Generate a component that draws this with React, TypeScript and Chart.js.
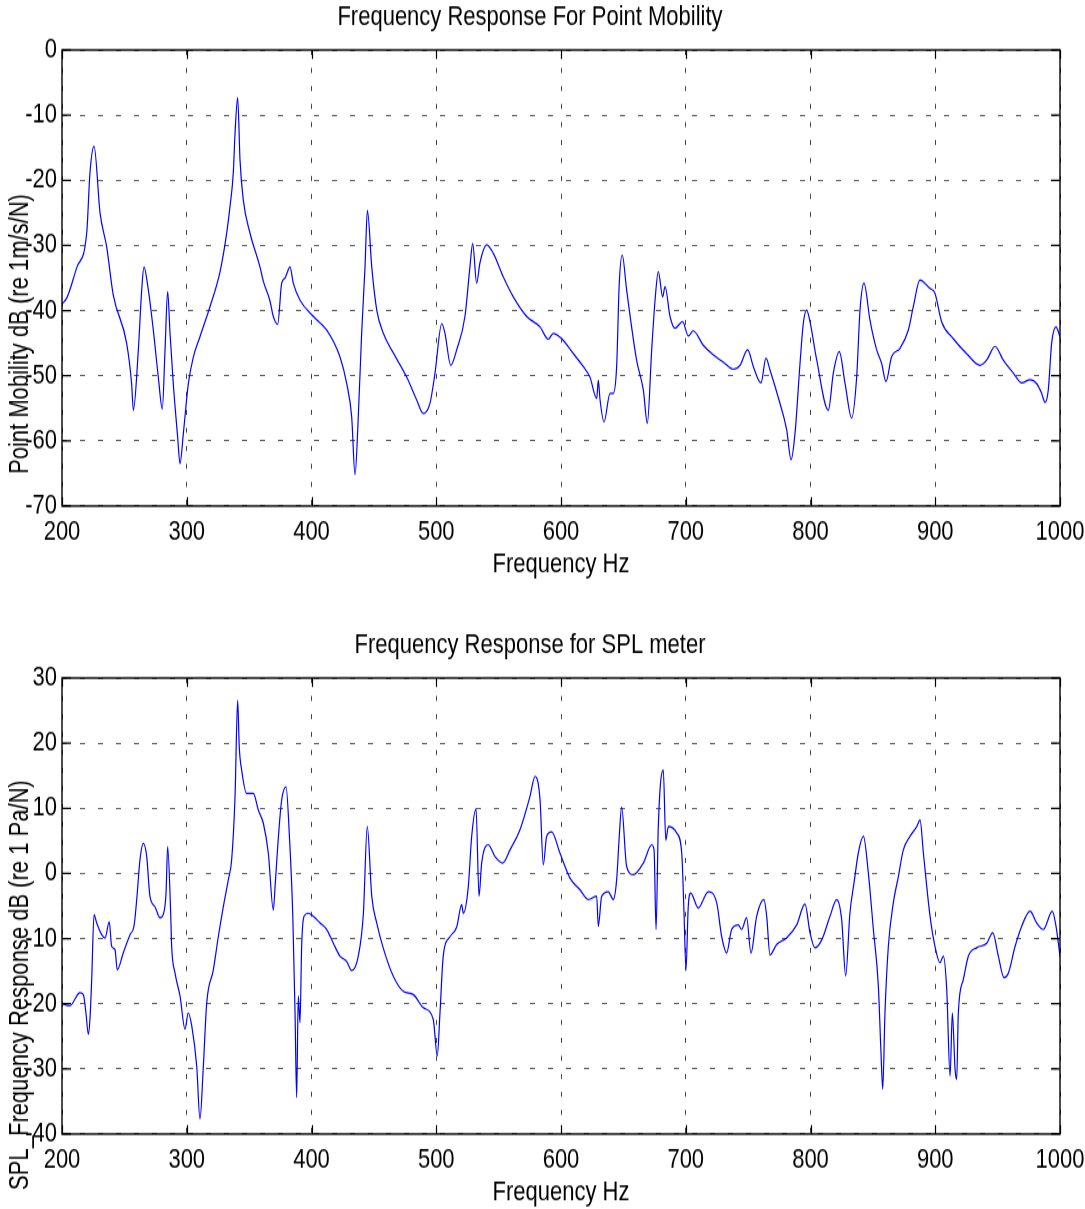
import React, { useEffect, useRef } from "react";
import { Chart, registerables } from "chart.js";

Chart.register(...registerables);

const FONT = '"Liberation Sans Narrow", "Arial Narrow", "Liberation Sans", Arial, sans-serif';
const FS = 22;
// the reference figure was stretched vertically; the canvas is drawn shorter and shown taller
const PANEL_H = 581;
const K = 1.25;
const INNER_H = Math.round(PANEL_H / K);
const KY = PANEL_H / INNER_H;

// ---------- Top panel: Point mobility ----------
const topTitle = "Frequency Response For Point Mobility";
const topYLabel = "Point Mobility dB (re 1m/s/N)";
const topFreq = [
  200, 204, 212, 219.8, 222.4, 225.7, 230.5, 235.8, 241, 251.8, 255.8, 257.2, 261.2, 263.9, 265.7,
  269.2, 273.2, 277.2, 280.4, 282.6, 284.7, 286.6, 289.2, 292.7, 294.6, 297.3, 301.3, 305.3, 310.6,
  318.6, 326.7, 332, 334.7, 337.3, 338.7, 340.8, 342.7, 345.3, 350.7, 358.7, 361.4, 366.7, 369.4,
  372.9, 376.1, 378.8, 382.8, 385.4, 390.8, 401.5, 412.2, 422.8, 428.2, 432.2, 434.9, 437.5, 440.2,
  442.9, 444.8, 448.3, 452.3, 457.6, 465.6, 476.3, 484.3, 489.6, 495, 499, 504.4, 507, 511.6, 516.4,
  523, 527, 529.2, 532.4, 535, 540.4, 545.7, 553.7, 561.8, 572.5, 583.2, 589.8, 593.8, 600.5, 609.9,
  617.9, 623.2, 628.6, 629.9, 631.3, 634.5, 639.3, 641.9, 644.6, 646.7, 649.1, 652.6, 660.6, 666,
  669.2, 672.7, 675.4, 678, 681.5, 683.4, 687.4, 691.4, 697.5, 702, 706, 714, 722.1, 730.1, 738.1,
  743.5, 749.6, 754.2, 760.3, 764.3, 767.5, 775, 780.9, 784.4, 787.6, 791.6, 794.2, 796.9, 799.6,
  805, 814.3, 818.3, 823.1, 827.7, 833, 837, 839.7, 842.9, 847.7, 853, 857, 860.5, 865, 871.7, 878.4,
  882.4, 887.7, 895.7, 899.7, 905.1, 914.4, 925.1, 935.9, 941.2, 947.9, 954.5, 962.6, 969.3, 976,
  981.3, 985.3, 988, 990.6, 993.3, 996.8, 1000,
];
const topDb = [
  -39, -38, -33.3, -28.1, -18.9, -14.8, -25, -30.2, -37.5, -45, -51.2, -55.3, -46, -36.8, -33.3,
  -36.8, -43, -50.2, -55.1, -46, -37.1, -43.5, -51.2, -59.4, -63.5, -58.8, -51.2, -47.1, -44,
  -39.4, -34, -28.1, -24, -18.9, -12.8, -7.3, -16.9, -23, -28.1, -33.3, -35.5, -38.5, -40.9,
  -42.1, -35.8, -35, -33.3, -35.8, -38.4, -40.9, -43, -47.1, -51.2, -56.3, -65.2, -56.3, -43.5,
  -33.3, -24.6, -33.3, -39.9, -43.5, -46.5, -50.2, -53.7, -55.8, -54.2, -49.6, -42, -43.5, -48.4, -46,
  -40.9, -33.3, -29.7, -35.8, -32.7, -29.9, -31.2, -34.8, -37.9, -40.9, -42.5, -44.4, -43.5, -44.3, -46.6,
  -48.6, -50.2, -53.5, -50.7, -53.7, -57.1, -52.7, -52.7, -48.6, -35.8, -31.5, -36.8, -47.6, -52.2,
  -57.3, -46, -38.4, -34, -37.9, -36.3, -40.9, -42.7, -41.7, -43.9, -43.1, -45.3, -46.8, -47.9, -49,
  -48.4, -46, -48.6, -51.1, -47.3, -49.1, -53.9, -58.3, -62.9, -58.8, -48.1, -42, -39.9, -41.7,
  -47.6, -55.3, -49.6, -46.3, -51.2, -56.5, -50.2, -39.9, -35.8, -41.5, -46, -48.1, -50.9, -47.1, -45.8, -43,
  -39.4, -35.3, -36.6, -37.3, -41.7, -44.3, -46.6, -48.4, -47.6, -45.5, -47.6, -49.6, -51.1, -50.6,
  -51.2, -52.7, -54.1, -52.2, -45, -42.5, -44,
];

// ---------- Bottom panel: SPL meter ----------
const botTitle = "Frequency Response for SPL meter";
const botYLabel = "SPL_Frequency Response dB (re 1 Pa/N)";
const botFreq = [
  200, 206.4, 214.4, 217.1, 219.2, 221.1, 222.4, 223.8, 225.7, 227.8, 231.8, 234.5, 237.9, 239.8,
  242.5, 244.3, 249.1, 254.5, 257.7, 259.9, 262.5, 265.2, 267.9, 270.5, 274.5, 278.6, 281.2, 283.4,
  284.7, 287.1, 287.9, 290.6, 294.6, 298.6, 301.2, 304, 308, 310.6, 313.3, 316, 321.3, 325.3, 329.3,
  333.3, 336, 338.7, 340.8, 342.1, 344, 348, 353.4, 357.4, 361.4, 365.4, 369.4, 370.8, 373.5, 376.1,
  379.6, 382.3, 385, 386.8, 388.1, 389.4, 390.8, 392.1, 394, 397.4, 401.5, 406.8, 412.2, 417.5, 422.8,
  428.2, 432.2, 437.5, 441.6, 444.7, 448.3, 452.3, 457.6, 465.6, 473.6, 481.6, 489.6, 497.6, 500.8,
  503, 505.6, 511, 516.4, 520.4, 521.7, 525.7, 528.4, 531.9, 534.3, 536.4, 541.7, 547.1, 553.2, 559.1,
  567.1, 575.1, 579.2, 583.2, 585.8, 588.5, 592.5, 599.2, 607.2, 615.2, 621.9, 628.6, 629.9, 632.6,
  637.9, 641.9, 644.6, 646.7, 648.6, 652.6, 658, 666, 672.7, 674.6, 676.2, 678, 682, 684, 686.1, 692.8,
  696.8, 698.6, 700.2, 702, 704, 710, 718, 724.8, 728.8, 732.8, 736.8, 742.1, 744.8, 748.8, 752.3,
  756.8, 762.7, 764.9, 767.5, 772.9, 780.9, 788.9, 795.6, 799.6, 803.6, 809, 815.6, 821, 825, 828.2,
  831.6, 835, 838.3, 842.4, 846.4, 850.4, 854.4, 856.5, 857.9, 859.7, 862.4, 866.4, 870.4, 874.4,
  879.8, 885.2, 887.8, 890.5, 895.8, 899.8, 903.8, 906.5, 909.2, 911.9, 913.7, 915.9, 917.2, 918.5,
  922.5, 926.5, 933.3, 941.3, 946.1, 950.6, 955.1, 958.6, 964, 969.3, 976, 981.3, 986.6, 993.8, 996.8, 1000,
];
const botDb = [
  -20, -20.3, -18.3, -18.6, -21.4, -24.7, -22.4, -16.3, -6.3, -7.6, -9.4, -9.9, -7.4, -11.2,
  -11.7, -14.8, -12.2, -9.4, -8.1, -4, 2.1, 4.6, 2.6, -3.5, -5.1, -6.8, -6.3, -3,
  4.1, -6, -11.2, -15.3, -18.8, -23.9, -21.4, -23.4, -29.6, -37.7, -29.6, -19.9, -14.8, -9.7, -5.1,
  -1, 2.1, 11.8, 26.6, 19.4, 15.9, 12.3, 12.3, 9.7, 7.7, 3.1, -5.6, -2, 5.7, 11.3,
  13.3, 5.7, -6.5, -21.4, -34.4, -18.8, -22.9, -11.2, -6.6, -6.1, -6.6, -7.6, -8.6, -10.7, -12.7,
  -13.5, -14.9, -12.7, -6.1, 7.2, -3.5, -7.6, -11.5, -15.8, -18.1, -18.6, -20.6, -22.4, -28,
  -21.4, -12.7, -9.7, -8.2, -4.8, -6.1, -2, 5.7, 9.9, -3.5, 1.6, 4.4, 2.6, 1.6, 3.6,
  6.7, 11.8, 14.9, 11.3, 1.3, 5.7, 6.4, 3.1, -0.7, -2.5, -4, -3.5, -8.1, -3.5,
  -2.8, -4, -1, 5.7, 10.2, 1.1, -0.2, 1.6, 4.4, 3.6, -8.6, 7.2, 15.9, 5.1, 7.2, 6.2,
  3.1, -6, -14.8, -5.1, -3, -5.3, -2.8, -4.5, -9.7, -12.2, -8.6, -7.9, -8.6, -6.8, -12.2,
  -6.6, -4, -6.6, -12.5, -10.9, -9.9, -7.9, -4.7, -9.1, -11.4, -10.2, -6.6, -4, -7.1, -15.7,
  -6.1, -1.3, 3.1, 5.7, 0, -8.6, -17.3, -27.5, -33.1, -21.4, -11.2, -4.5, -0.5, 3.6,
  5.7, 7.2, 8.2, 3.1, -6.5, -11.2, -13.7, -12.7, -17.8, -31.1, -21.4, -30.1, -31.6, -21.4,
  -16.3, -12.7, -11.4, -10.7, -9.1, -12.7, -16, -15.3, -11.2, -8.1, -5.8, -7.6, -8.6, -5.8, -8.1, -12.7,
];

const xLabel = "Frequency Hz";
const xMin = 200, xMax = 1000, xStep = 100;
const topYMin = -70, topYMax = 0;
const botYMin = -40, botYMax = 30;
const yStep = 10;

const framePlugin = {
  id: "frame",
  afterDraw(chart: any, _args: any, opts: any) {
    const { ctx, chartArea } = chart;
    const { left, right, top, bottom } = chartArea;
    const xs = chart.scales.x;
    const ys = chart.scales.y;
    ctx.save();
    ctx.setLineDash([]);
    ctx.strokeStyle = "#000";
    ctx.lineWidth = 1.4;
    ctx.strokeRect(left, top, right - left, bottom - top);
    const L = 9;
    ctx.beginPath();
    xs.ticks.forEach((t: any) => {
      const p = Math.round(xs.getPixelForValue(t.value)) + 0.5;
      ctx.moveTo(p, bottom); ctx.lineTo(p, bottom - L / KY);
      ctx.moveTo(p, top); ctx.lineTo(p, top + L / KY);
    });
    ys.ticks.forEach((t: any) => {
      const p = ys.getPixelForValue(t.value);
      ctx.moveTo(left, p); ctx.lineTo(left + L, p);
      ctx.moveTo(right, p); ctx.lineTo(right - L, p);
    });
    ctx.lineWidth = 1.2;
    ctx.stroke();
    ctx.fillStyle = "#000";
    ctx.font = `${FS}px ${FONT}`;
    ctx.textAlign = "center";
    ctx.textBaseline = "alphabetic";
    ctx.fillText(opts.xTitle, (left + right) / 2, opts.xTitleY / KY);
    // rotated label: keep its length unstretched, glyph height stretched like the rest
    ctx.translate(opts.yTitleX, opts.yTitleCY / KY);
    ctx.scale(1, 1 / KY);
    ctx.rotate(-Math.PI / 2);
    ctx.scale(1, KY);
    ctx.fillText(opts.yTitle, 0, 0);
    ctx.restore();
  },
};

function makeConfig(freq: number[], db: number[], title: string, yTitle: string, yMin: number, yMax: number, yTitleCY: number) {
  const titleBox = FS * 1.2;
  const areaTop = 50 / KY;
  const padTop = 17.5 / KY - titleBox / 2;
  return {
    type: "line" as const,
    data: {
      datasets: [
        {
          data: freq.map((f, i) => ({ x: f, y: db[i] })),
          borderColor: "#0000ff",
          borderWidth: 1.2,
          pointRadius: 0,
          cubicInterpolationMode: "monotone" as const,
          fill: false,
        },
      ],
    },
    options: {
      responsive: false,
      animation: false as const,
      devicePixelRatio: 1,
      layout: { padding: { left: 0, right: 25, top: 0, bottom: 0 } },
      plugins: {
        legend: { display: false },
        tooltip: { enabled: false },
        title: {
          display: true,
          text: title,
          color: "#000",
          font: { family: FONT, size: FS, weight: "normal" as const },
          padding: { top: padTop, bottom: areaTop - titleBox - padTop },
        },
        frame: { xTitle: xLabel, xTitleY: 572, yTitle, yTitleX: 28, yTitleCY },
      },
      scales: {
        x: {
          type: "linear" as const,
          min: xMin,
          max: xMax,
          afterFit: (s: any) => { s.height = INNER_H - 506 / KY; s.paddingLeft = 0; s.paddingRight = 0; },
          ticks: {
            stepSize: xStep,
            color: "#000",
            padding: 8,
            maxRotation: 0,
            font: { family: FONT, size: FS },
            callback: (v: any) => String(v),
          },
          grid: { color: "rgba(0,0,0,0.75)", lineWidth: 1, drawTicks: false },
          border: { display: false, dash: [4, 10.4] },
        },
        y: {
          type: "linear" as const,
          min: yMin,
          max: yMax,
          afterFit: (s: any) => { s.width = 62; },
          ticks: {
            stepSize: yStep,
            color: "#000",
            padding: 5,
            font: { family: FONT, size: FS },
            callback: (v: any) => String(v),
          },
          grid: { color: "rgba(0,0,0,0.75)", lineWidth: 0.85, drawTicks: false },
          border: { display: false, dash: [5, 13] },
        },
      },
    },
    plugins: [framePlugin],
  };
}

function Panel({ top, cfg }: { top: number; cfg: any }) {
  const ref = useRef<HTMLCanvasElement | null>(null);
  useEffect(() => {
    if (!ref.current) return;
    const chart = new Chart(ref.current, cfg);
    return () => chart.destroy();
  }, [cfg]);
  return (
    <canvas
      ref={ref}
      width={1085}
      height={INNER_H}
      style={{ position: "absolute", left: 0, top, width: 1085, height: PANEL_H }}
    />
  );
}

const topCfg = makeConfig(topFreq, topDb, topTitle, topYLabel, topYMin, topYMax, 334);
const botCfg = makeConfig(botFreq, botDb, botTitle, botYLabel, botYMin, botYMax, 985 - 628);

export default function App() {
  return (
    <div style={{ position: "absolute", left: 0, top: 0, width: 1085, height: 1209, background: "#fff", overflow: "hidden" }}>
      <Panel top={0} cfg={topCfg} />
      <Panel top={628} cfg={botCfg} />
    </div>
  );
}
